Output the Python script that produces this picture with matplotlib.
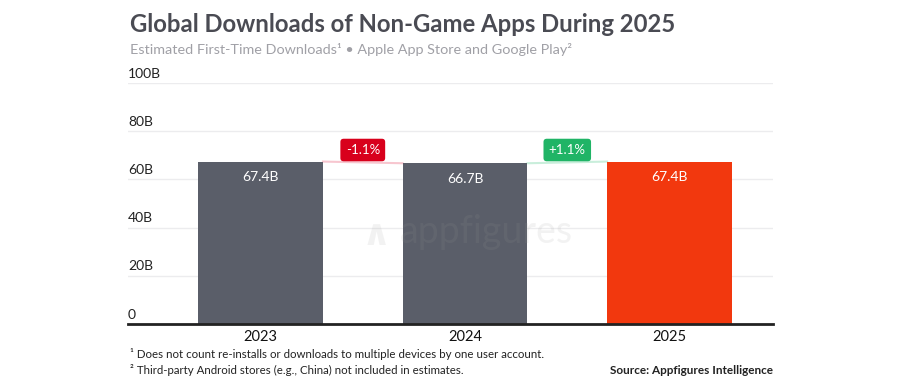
import matplotlib
matplotlib.use("Agg")
import matplotlib.pyplot as plt

years = ["2023", "2024", "2025"]
downloads = [67.4, 66.7, 67.4]
value_labels = ["67.4B", "66.7B", "67.4B"]
changes = ["-1.1%", "+1.1%"]
y_ticks = [0, 20, 40, 60, 80, 100]
y_tick_labels = ["0", "20B", "40B", "60B", "80B", "100B"]

bar_colors = ["#5a5e69", "#5a5e69", "#f2380e"]
badge_colors = ["#d8001c", "#20b466"]
line_colors = ["#f7c6cf", "#c9eedb"]

W, H = 900, 383
fig = plt.figure(figsize=(W / 100, H / 100), dpi=100)
fig.patch.set_facecolor("white")
FONT = ["Lato", "DejaVu Sans"]

ax_l, ax_r, ax_b, ax_t = 128, 773, 324, 83
ax = fig.add_axes([ax_l / W, (H - ax_b) / H, (ax_r - ax_l) / W, (ax_b - ax_t) / H])
ax.set_ylim(0, 100)
ax.set_xlim(-0.648, 2.506)
for s in ["top", "right", "left"]:
    ax.spines[s].set_visible(False)
ax.spines["bottom"].set_color("#222222")
ax.spines["bottom"].set_linewidth(2)
ax.set_yticks([])
ax.set_xticks(range(len(years)))
ax.set_xticklabels(years, fontsize=10.5, color="#111111", family=FONT)
ax.tick_params(axis="x", length=0, pad=4)

for t, lab in zip(y_ticks, y_tick_labels):
    if t > 0:
        ax.axhline(t, color="#ececee", lw=1, zorder=0)
    ax.annotate(lab, xy=(0, t), xycoords=("axes fraction", "data"),
                xytext=(0, 2.5), textcoords="offset points",
                ha="left", va="bottom", fontsize=10, color="#222222", family=FONT)

# watermark (drawn faintly over everything)
ax.text(0.556, 0.38, "appfigures", transform=ax.transAxes, ha="center", va="center",
        fontsize=27, color="#9a9a9a", family=FONT, zorder=5, alpha=0.12)
ax.text(0.385, 0.37, "\u2227", transform=ax.transAxes, ha="center", va="center",
        fontsize=26, fontweight="bold", color="#9a9a9a", family=["DejaVu Sans"], zorder=5, alpha=0.12)

bw = 0.611
x = list(range(len(years)))
ax.bar(x, downloads, width=bw, color=bar_colors, zorder=2)
for xi, v, lab in zip(x, downloads, value_labels):
    ax.annotate(lab, xy=(xi, v), xytext=(0, -7), textcoords="offset points",
                ha="center", va="top", fontsize=10, color="white", family=FONT, zorder=3)

for i, ch in enumerate(changes):
    x1 = x[i] + bw / 2
    x2 = x[i + 1] - bw / 2
    v1, v2 = downloads[i], downloads[i + 1]
    ax.plot([x1, x2], [v1, v2], color=line_colors[i], lw=1.5, zorder=1)
    ym = max(v1, v2)
    ax.annotate(ch, xy=((x1 + x2) / 2, ym), xytext=(0, 4), textcoords="offset points",
                ha="center", va="bottom", fontsize=9.5, color="white", family=FONT, zorder=4,
                bbox=dict(boxstyle="round,pad=0.4,rounding_size=0.25",
                          fc=badge_colors[i], ec="none"))

fig.text(130 / W, 1 - 25 / H, "Global Downloads of Non-Game Apps During 2025",
         ha="left", va="center", fontsize=17.2, fontweight="bold", color="#4a4b53", family=FONT)
fig.text(130 / W, 1 - 50 / H,
         "Estimated First-Time Downloads\u00b9 \u2022 Apple App Store and Google Play\u00b2",
         ha="left", va="center", fontsize=10.4, color="#a0a0a6", family=FONT)

fig.text(130 / W, 1 - 354 / H,
         "\u00b9 Does not count re-installs or downloads to multiple devices by one user account.",
         ha="left", va="center", fontsize=8.3, color="#222222", family=FONT)
fig.text(130 / W, 1 - 370 / H,
         "\u00b2 Third-party Android stores (e.g., China) not included in estimates.",
         ha="left", va="center", fontsize=8.3, color="#222222", family=FONT)
fig.text(773 / W, 1 - 370 / H, "Source: Appfigures Intelligence",
         ha="right", va="center", fontsize=8.5, fontweight="bold", color="#222222", family=FONT)

fig.savefig("out.png", dpi=100, facecolor="white")
